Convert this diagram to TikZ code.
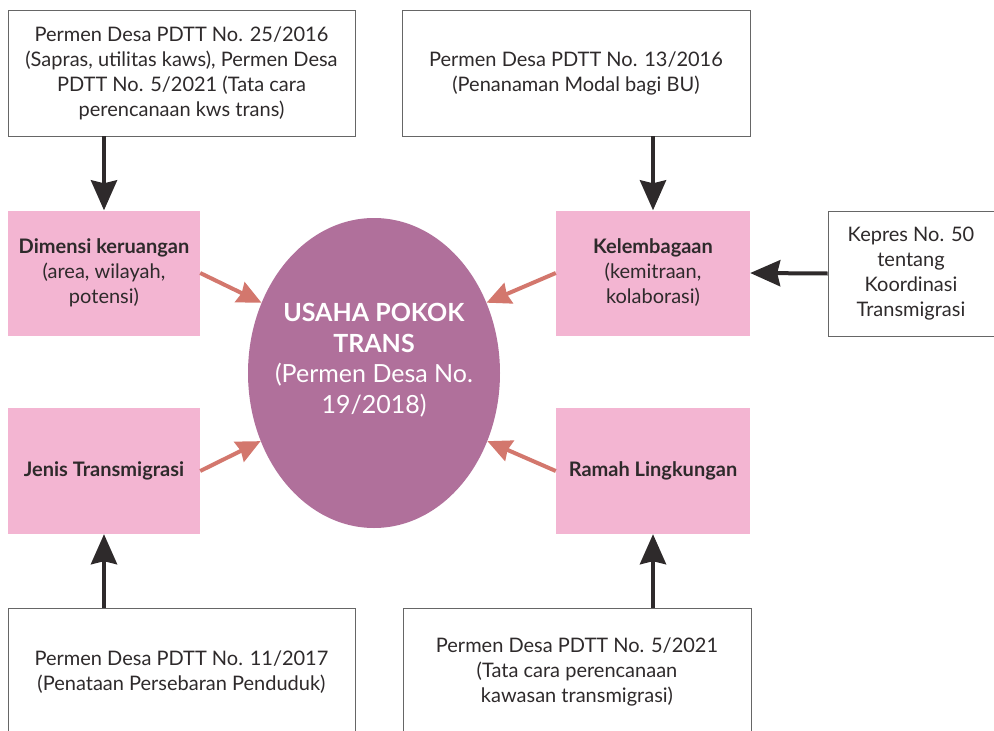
\documentclass[tikz,border=0pt]{standalone}
\usepackage{fontspec}
\setmainfont{Lato}
\usetikzlibrary{arrows.meta,shapes.geometric}
\definecolor{pinkbox}{HTML}{F3B5D2}
\definecolor{ungu}{HTML}{B0709B}
\definecolor{salmon}{HTML}{D3776D}
\definecolor{gelap}{HTML}{2E2A2B}
\begin{document}
\begin{tikzpicture}
[x=1pt,y=-1pt,
 txt/.style={align=center, text=gelap, font=\fontsize{20}{25}\selectfont, inner sep=0pt},
 aturan/.style={txt, draw=gray!80!black, line width=0.8pt, fill=white},
 faktor/.style={txt, fill=pinkbox},
 pusat/.style={ellipse, fill=ungu, inner sep=0pt, minimum width=252pt, minimum height=310pt},
 judul/.style={text=white, align=center, inner sep=0pt, font=\fontsize{25}{30.5}\selectfont},
 hitam/.style={draw=gelap, line width=4pt, -{Stealth[length=30pt,width=26pt,inset=3pt]}},
 masuk/.style={draw=salmon, line width=4pt, -{Stealth[length=24pt,width=22pt,inset=2pt]}}]
\useasboundingbox (0,0) rectangle (994,731);
\clip (0,0) rectangle (994,731);
% kotak peraturan
\node[aturan, minimum width=347pt, minimum height=126pt] (atas kiri) at (181.5,73)
  {Permen Desa PDTT No. 25/2016\\(Sapras, utilitas kaws), Permen Desa\\PDTT No. 5/2021 (Tata cara\\perencanaan kws trans)};
\node[aturan, minimum width=348pt, minimum height=126pt] (atas kanan) at (576,73)
  {Permen Desa PDTT No. 13/2016\\(Penanaman Modal bagi BU)};
\node[aturan, minimum width=166pt, minimum height=125pt] (kepres) at (911,273.5)
  {Kepres No. 50\\tentang\\Koordinasi\\Transmigrasi};
\node[aturan, minimum width=347pt, minimum height=128pt] (bawah kiri) at (181.5,672)
  {Permen Desa PDTT No. 11/2017\\(Penataan Persebaran Penduduk)};
\node[aturan, minimum width=348pt, minimum height=128pt] (bawah kanan) at (577,672)
  {Permen Desa PDTT No. 5/2021\\(Tata cara perencanaan\\kawasan transmigrasi)};
% kotak faktor
\node[faktor, minimum width=192pt, minimum height=125pt] (dimensi) at (104,273)
  {\textbf{Dimensi keruangan}\\(area, wilayah,\\potensi)};
\node[faktor, minimum width=192pt, minimum height=126pt] (jenis) at (104,471)
  {\textbf{Jenis Transmigrasi}};
\node[faktor, minimum width=194pt, minimum height=125pt] (lembaga) at (653,273)
  {\textbf{Kelembagaan}\\(kemitraan,\\kolaborasi)};
\node[faktor, minimum width=194pt, minimum height=126pt] (ramah) at (653,471)
  {\textbf{Ramah Lingkungan}};
% pusat
\node[pusat] (usaha) at (374,373) {};
\node[judul] (judul usaha) at (374,360)
  {\textbf{USAHA POKOK}\\\textbf{TRANS}\\(Permen Desa No.\\19/2018)};
% panah
\draw[hitam] (dimensi.north |- atas kiri.south) -- (dimensi.north);
\draw[hitam] (lembaga.north |- atas kanan.south) -- (lembaga.north);
\draw[hitam] (kepres.west) -- (lembaga.east);
\draw[hitam] (jenis.south |- bawah kiri.north) -- (jenis.south);
\draw[hitam] (ramah.south |- bawah kanan.north) -- (ramah.south);
\draw[masuk] (dimensi.east) -- (usaha.148);
\draw[masuk] (jenis.east) -- (usaha.211);
\draw[masuk] (lembaga.west) -- (usaha.32);
\draw[masuk] (ramah.west) -- (usaha.329);
\end{tikzpicture}
\end{document}
